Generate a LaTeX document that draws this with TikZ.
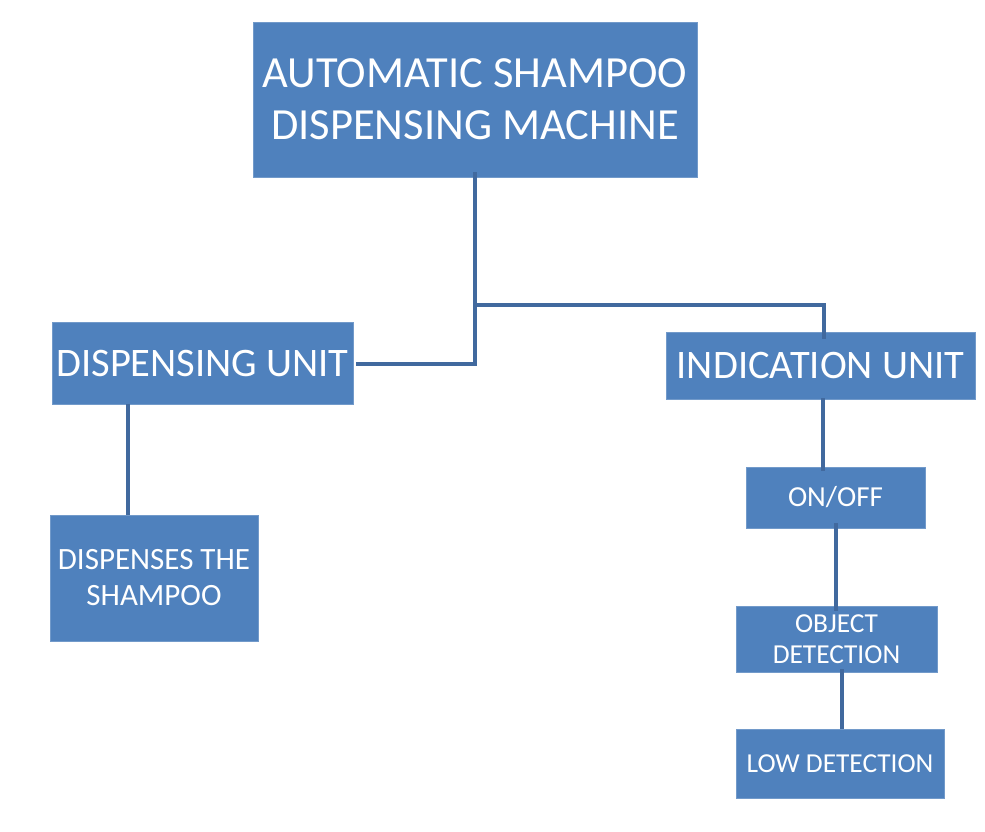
\documentclass[tikz,border=0pt]{standalone}
\usepackage{fontspec}
\setmainfont{Carlito}
\definecolor{boxblue}{HTML}{4F81BD}
\definecolor{lineblue}{HTML}{41699E}
\begin{document}
\begin{tikzpicture}[x=1pt,y=-1pt,
  box/.style={fill=boxblue,draw=boxblue!80!white,line width=0.6pt,text=white,inner sep=0pt,align=center,anchor=center},
  conn/.style={draw=lineblue,line width=3.2pt}]
\useasboundingbox (0,0) rectangle (985,831);
\node[box,minimum width=444pt,minimum height=155pt,font=\fontsize{44.5}{52}\selectfont] (top) at (475,99.5) {AUTOMATIC SHAMPOO\\DISPENSING MACHINE};
\node[box,minimum width=301pt,minimum height=82pt,font=\fontsize{40.5}{50}\selectfont] (du) at (202.5,363) {DISPENSING UNIT};
\node[box,minimum width=309pt,minimum height=67pt,font=\fontsize{40.5}{50}\selectfont] (iu) at (820.5,365.5) {INDICATION UNIT};
\node[box,minimum width=208pt,minimum height=126pt,font=\fontsize{31}{36}\selectfont] (ds) at (154,578) {DISPENSES THE\\SHAMPOO};
\node[box,minimum width=179pt,minimum height=61pt,font=\fontsize{29}{32}\selectfont] (oo) at (835.5,497.5) {ON/OFF};
\node[box,minimum width=201pt,minimum height=66pt,font=\fontsize{27.4}{31}\selectfont] (od) at (836.5,639) {OBJECT\\DETECTION};
\node[box,minimum width=208pt,minimum height=69pt,font=\fontsize{27.4}{31}\selectfont] (ld) at (840,763.5) {LOW DETECTION};
\coordinate (j) at (475,305);
\draw[conn] ([yshift=5pt]top.south) -- (j) -| ([xshift=3.5pt,yshift=-7pt]iu.north);
\draw[conn] (j) |- ([xshift=3pt,yshift=-1pt]du.east);
\draw[conn] ([xshift=-74.5pt]du.south) -- ([xshift=-74.5pt]du.south |- ds.north);
\draw[conn] ([xshift=2.5pt,yshift=1pt]iu.south) -- ([xshift=2.5pt,yshift=-4pt]iu.south |- oo.north);
\draw[conn] ([xshift=0.5pt,yshift=5pt]oo.south) -- ([xshift=0.5pt,yshift=-5pt]oo.south |- od.north);
\draw[conn] ([xshift=5.5pt,yshift=3pt]od.south) -- ([xshift=5.5pt]od.south |- ld.north);
\end{tikzpicture}
\end{document}
